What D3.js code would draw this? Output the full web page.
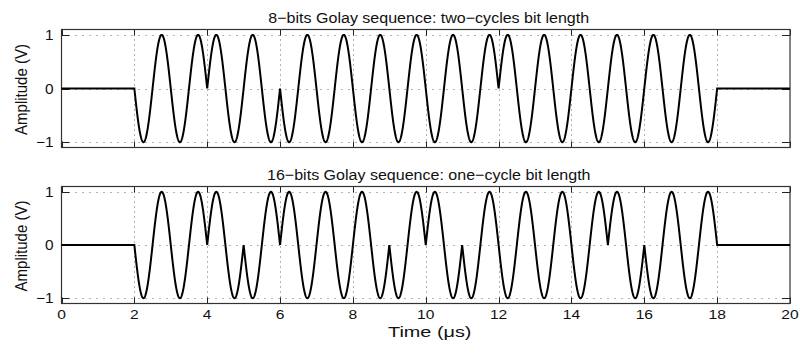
<!DOCTYPE html>
<html>
<head>
<meta charset="utf-8">
<script src="https://cdn.jsdelivr.net/npm/d3@7"></script>
<style>
  html, body { margin: 0; padding: 0; background: #fff; }
  svg { display: block; font-family: "Liberation Sans", Arial, Helvetica, sans-serif; }
</style>
</head>
<body>
<svg id="chart" width="800" height="343"></svg>
<script>
// ---- data ----
const xTicks = [0, 2, 4, 6, 8, 10, 12, 14, 16, 18, 20];
const yTicks = [-1, 0, 1];
const timeDomain = [0, 20];          // µs
const burstStart = 2;                // µs
const burstEnd = 18;                 // µs
const titles = [
  "8\u2212bits Golay sequence: two\u2212cycles bit length",
  "16\u2212bits Golay sequence: one\u2212cycle bit length"
];
// sign of the sine carrier in each bit
const bits8  = [-1, 1, -1, -1, -1, 1, 1, 1];
const bits16 = [-1, -1, 1, -1, 1, 1, 1, -1, 1, -1, -1, -1, -1, 1, -1, -1];
const cyclesPerBit = [2, 1];
const yLabel = "Amplitude (V)";
const xLabel = "Time (\u03bcs)";

// ---- build waveform from bit sequences ----
function waveform(bits, cycles) {
  const T = (burstEnd - burstStart) / bits.length;
  const pts = [[timeDomain[0], 0], [burstStart, 0]];
  const n = 300;
  bits.forEach((b, k) => {
    const t0 = burstStart + k * T;
    for (let i = 1; i <= n; i++) {
      const t = t0 + T * i / n;
      pts.push([t, b * Math.sin(2 * Math.PI * cycles * (t - t0) / T)]);
    }
  });
  pts.push([timeDomain[1], 0]);
  return pts;
}
const series = [waveform(bits8, cyclesPerBit[0]), waveform(bits16, cyclesPerBit[1])];

// ---- layout ----
const svg = d3.select("#chart");
const left = 61.5, right = 790;
const panels = [
  { top: 29.5, bottom: 147.5, titleY: 23, showX: false },
  { top: 186.5, bottom: 303.5, titleY: 180, showX: true }
];
const x = d3.scaleLinear().domain(timeDomain).range([left, right]);

function stext(g, tx, ty, str, size, sx, anchor, rot) {
  const r = rot ? ` rotate(${rot})` : "";
  return g.append("text")
    .attr("transform", `translate(${tx},${ty})${r} scale(${sx},1)`)
    .attr("text-anchor", anchor).attr("font-size", size).attr("fill", "#111").text(str);
}

panels.forEach((p, i) => {
  const y = d3.scaleLinear().domain([-1.1, 1.1]).range([p.bottom, p.top]);
  const g = svg.append("g");

  // grid (dotted)
  g.selectAll(".vg").data(xTicks.slice(1, -1)).join("line")
    .attr("x1", d => Math.round(x(d)) + 0.5).attr("x2", d => Math.round(x(d)) + 0.5)
    .attr("y1", p.top).attr("y2", p.bottom)
    .attr("stroke", "#666").attr("stroke-width", 1).attr("stroke-dasharray", "1,4");
  g.selectAll(".hg").data(yTicks).join("line")
    .attr("x1", left).attr("x2", right)
    .attr("y1", d => Math.round(y(d)) + 0.5).attr("y2", d => Math.round(y(d)) + 0.5)
    .attr("stroke", "#666").attr("stroke-width", 1).attr("stroke-dasharray", "1,6");

  // ticks inward (bottom, top, left, right)
  const tx = 6, ty = 8;
  xTicks.forEach(d => {
    const xx = Math.round(x(d)) + 0.5;
    g.append("line").attr("x1", xx).attr("x2", xx).attr("y1", p.bottom).attr("y2", p.bottom - tx).attr("stroke", "#222");
    g.append("line").attr("x1", xx).attr("x2", xx).attr("y1", p.top).attr("y2", p.top + tx).attr("stroke", "#222");
  });
  yTicks.forEach(d => {
    const yy = Math.round(y(d)) + 0.5;
    g.append("line").attr("x1", left).attr("x2", left + ty).attr("y1", yy).attr("y2", yy).attr("stroke", "#222");
    g.append("line").attr("x1", right).attr("x2", right - ty).attr("y1", yy).attr("y2", yy).attr("stroke", "#222");
  });

  // box
  g.append("rect").attr("x", left).attr("y", p.top).attr("width", right - left).attr("height", p.bottom - p.top)
    .attr("fill", "none").attr("stroke", "#333").attr("stroke-width", 1.2);

  // waveform
  const line = d3.line().x(d => x(d[0])).y(d => y(d[1]));
  g.append("path").datum(series[i]).attr("d", line)
    .attr("fill", "none").attr("stroke", "#000").attr("stroke-width", 2).attr("stroke-linejoin", "miter");

  // y tick labels
  yTicks.forEach(d => {
    stext(g, left - 8, y(d) + 5, d < 0 ? "\u2212" + Math.abs(d) : String(d), 14, 1.1, "end");
  });

  // x tick labels
  if (p.showX) {
    xTicks.forEach(d => stext(g, x(d), p.bottom + 15, String(d), 13, 1.2, "middle"));
    stext(g, (left + right) / 2 + 4, p.bottom + 33, xLabel, 15.5, 1.28, "middle");
  }

  // title
  stext(g, (left + right) / 2 + 3, p.titleY, titles[i], 15, 1.07, "middle");

  // y label
  g.append("text")
    .attr("transform", `translate(27,${(p.top + p.bottom) / 2 + 1}) rotate(-90) scale(1,1.15)`)
    .attr("text-anchor", "middle").attr("font-size", 15).attr("fill", "#111").text(yLabel);
});
</script>
</body>
</html>
